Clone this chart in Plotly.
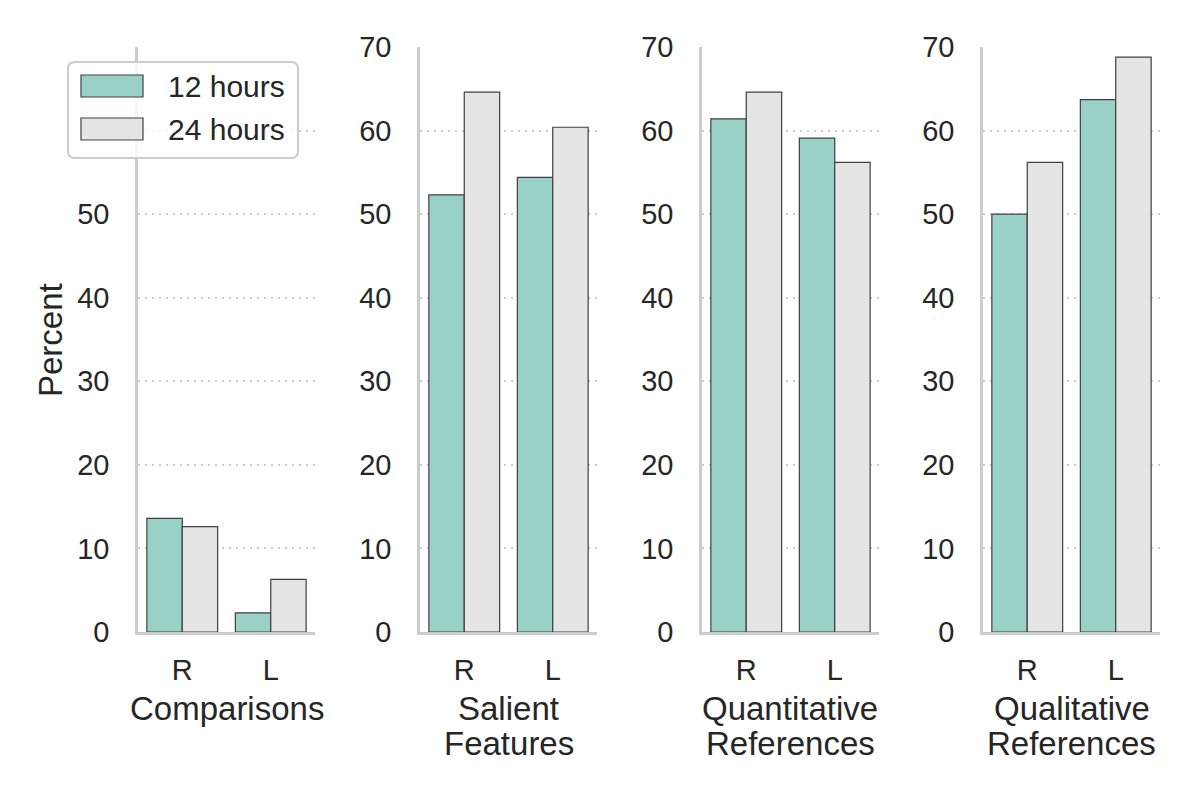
import plotly.graph_objects as go

# ---- data ----
panels = ["Comparisons", "Salient<br>Features", "Quantitative<br>References", "Qualitative<br>References"]
sides = ["R", "L"]
hours_12 = [[13.6, 2.3], [52.3, 54.4], [61.4, 59.1], [50.0, 63.7]]
hours_24 = [[12.6, 6.3], [64.6, 60.4], [64.6, 56.2], [56.2, 68.8]]
series_names = ["12 hours", "24 hours"]
y_ticks = [0, 10, 20, 30, 40, 50, 60, 70]

# ---- styles ----
W, H = 1200, 800
C12 = "#99d1c6"
C24 = "#e5e5e5"
EDGE = "#404040"
TXT = "#262626"
SPINE = "#cccccc"
FONT = "Liberation Sans, Arial, sans-serif"

fig = go.Figure()

x_left = [138, 420, 702, 983]
ax_w = 177
y_top, y_bot = 47, 632

for i in range(4):
    xa = "x" if i == 0 else f"x{i+1}"
    ya = "y" if i == 0 else f"y{i+1}"
    fig.add_trace(go.Bar(x=sides, y=hours_12[i], name=series_names[0], marker=dict(color=C12, line=dict(color=EDGE, width=1.2)),
                         xaxis=xa, yaxis=ya, offsetgroup="a", showlegend=False, hoverinfo="y"))
    fig.add_trace(go.Bar(x=sides, y=hours_24[i], name=series_names[1], marker=dict(color=C24, line=dict(color=EDGE, width=1.2)),
                         xaxis=xa, yaxis=ya, offsetgroup="b", showlegend=False, hoverinfo="y"))
    dom_x = [x_left[i] / W, (x_left[i] + ax_w) / W]
    dom_y = [(H - y_bot) / H, (H - y_top) / H]
    xkey = "xaxis" if i == 0 else f"xaxis{i+1}"
    ykey = "yaxis" if i == 0 else f"yaxis{i+1}"
    ticktext = [str(t) for t in y_ticks]
    if i == 0:
        ticktext = [str(t) if t <= 50 else "" for t in y_ticks]
    fig.update_layout({
        xkey: dict(domain=dom_x, anchor=ya, range=[-0.5, 1.5], type="category", automargin=False,
                   showline=True, linecolor=SPINE, linewidth=2.5, showgrid=False,
                   ticks="outside", ticklen=10, tickcolor="rgba(0,0,0,0)",
                   tickfont=dict(family=FONT, size=29, color=TXT), fixedrange=True),
        ykey: dict(domain=dom_y, anchor=xa, range=[0, 70], tickvals=y_ticks, ticktext=ticktext, automargin=False,
                   showline=True, linecolor=SPINE, linewidth=2.5,
                   showgrid=True, gridcolor=SPINE, gridwidth=2, griddash="2px,5px", zeroline=False,
                   ticks="outside", ticklen=20, tickcolor="rgba(0,0,0,0)",
                   tickfont=dict(family=FONT, size=29, color=TXT), fixedrange=True),
    })
    # panel title (x-axis label)
    lines = panels[i].split("<br>")
    for j, ln in enumerate(lines):
        fig.add_annotation(text=ln, xref="paper", yref="paper",
                           x=(x_left[i] + ax_w / 2) / W, y=(H - (708 + 35 * j)) / H,
                           xanchor="center", yanchor="middle", showarrow=False,
                           font=dict(family=FONT, size=33, color=TXT))

# y title
fig.add_annotation(text="Percent", xref="paper", yref="paper", x=50 / W, y=(H - 340) / H,
                   xanchor="center", yanchor="middle", textangle=-90, showarrow=False,
                   font=dict(family=FONT, size=33, color=TXT))

# legend (box, swatches, labels)
lx0, lx1, ly0, ly1, r = 68, 298, 62, 158, 7
def px(x): return x / W
def py(y): return (H - y) / H
path = (f"M {px(lx0 + r)},{py(ly0)} L {px(lx1 - r)},{py(ly0)} Q {px(lx1)},{py(ly0)} {px(lx1)},{py(ly0 + r)} "
        f"L {px(lx1)},{py(ly1 - r)} Q {px(lx1)},{py(ly1)} {px(lx1 - r)},{py(ly1)} "
        f"L {px(lx0 + r)},{py(ly1)} Q {px(lx0)},{py(ly1)} {px(lx0)},{py(ly1 - r)} "
        f"L {px(lx0)},{py(ly0 + r)} Q {px(lx0)},{py(ly0)} {px(lx0 + r)},{py(ly0)} Z")
fig.add_shape(type="path", path=path, xref="paper", yref="paper",
              fillcolor="rgba(255,255,255,0.8)", line=dict(color=SPINE, width=2), layer="above")
for k, (nm, col) in enumerate(zip(series_names, [C12, C24])):
    sy0 = 75 + 43 * k
    fig.add_shape(type="rect", xref="paper", yref="paper", x0=px(81), x1=px(143), y0=py(sy0), y1=py(sy0 + 22),
                  fillcolor=col, line=dict(color=EDGE, width=1.2), layer="above")
    fig.add_annotation(text=nm, xref="paper", yref="paper", x=px(166), y=py(sy0 + 11),
                       xanchor="left", yanchor="middle", showarrow=False,
                       font=dict(family=FONT, size=30, color=TXT))

fig.update_layout(width=W, height=H, margin=dict(l=0, r=0, t=0, b=0, autoexpand=False),
                  paper_bgcolor="white", plot_bgcolor="white",
                  barmode="group", bargap=0.2, bargroupgap=0,
                  font=dict(family=FONT, color=TXT), showlegend=False)

fig.write_html("out.html")
